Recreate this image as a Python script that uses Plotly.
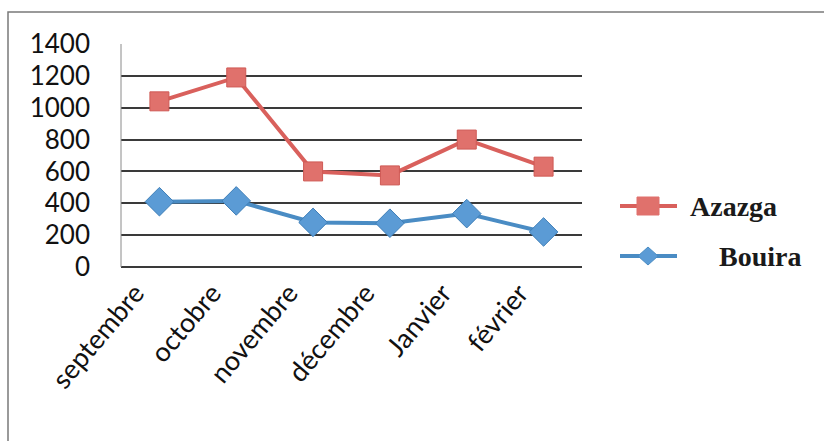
import plotly.graph_objects as go

# Monthly values for the two stations
months = ["septembre", "octobre", "novembre", "décembre", "Janvier", "février"]
azazga = [1040, 1190, 600, 575, 800, 630]
bouira = [410, 415, 280, 275, 335, 220]
y_ticks = [0, 200, 400, 600, 800, 1000, 1200, 1400]

W, H = 824, 441
ML, MR, MT, MB = 121, 242, 44, 174
PW, PH = W - ML - MR, H - MT - MB

RED_LINE = "#d9605c"
RED_FILL = "#e0716c"
BLUE_LINE = "#4a8cc4"
BLUE_FILL = "#5b9bd5"
GRID = "#3a3a3a"


def px_x(x):
    return (x - ML) / PW


def px_y(y):
    return 1 - (y - MT) / PH


fig = go.Figure()
fig.add_trace(go.Scatter(
    x=months, y=azazga, name="Azazga", mode="lines+markers",
    line=dict(color=RED_LINE, width=4),
    marker=dict(symbol="square", size=19, color=RED_FILL,
                line=dict(color="#cf5a55", width=1)),
))
fig.add_trace(go.Scatter(
    x=months, y=bouira, name="Bouira", mode="lines+markers",
    line=dict(color=BLUE_LINE, width=4),
    marker=dict(symbol="diamond", size=22, color=BLUE_FILL,
                line=dict(color="#3f7fb8", width=1)),
))

shapes = []
# outer frame of the chart
shapes.append(dict(type="rect", xref="paper", yref="paper",
                   x0=px_x(8), x1=px_x(830), y0=px_y(12), y1=px_y(450),
                   line=dict(color="#7a7a7a", width=1.5), layer="below"))
# left edge of the plotting area
shapes.append(dict(type="line", xref="paper", yref="paper",
                   x0=0, x1=0, y0=0, y1=1,
                   line=dict(color="#8a8a8a", width=1)))

# legend: line with a marker in the middle, then the name
legend_rows = [
    ("Azazga", 206, RED_LINE, RED_FILL, "square", 688),
    ("Bouira", 256, BLUE_LINE, BLUE_FILL, "diamond", 717),
]
annotations = []
for name, ly, lc, fc, sym, tx in legend_rows:
    shapes.append(dict(type="line", xref="paper", yref="paper",
                       x0=px_x(620), x1=px_x(677), y0=px_y(ly), y1=px_y(ly),
                       line=dict(color=lc, width=4)))
    cx = 648
    if sym == "square":
        shapes.append(dict(type="rect", xref="paper", yref="paper",
                           x0=px_x(cx - 11), x1=px_x(cx + 11),
                           y0=px_y(ly + 9), y1=px_y(ly - 9),
                           fillcolor=fc, line=dict(color=fc, width=1)))
    else:
        path = "M {} {} L {} {} L {} {} L {} {} Z".format(
            px_x(cx - 10), px_y(ly), px_x(cx), px_y(ly - 9),
            px_x(cx + 10), px_y(ly), px_x(cx), px_y(ly + 9))
        shapes.append(dict(type="path", xref="paper", yref="paper", path=path,
                           fillcolor=fc, line=dict(color=lc, width=1)))
    annotations.append(dict(
        text="<b>" + name + "</b>", xref="paper", yref="paper",
        x=px_x(tx), y=px_y(ly), xanchor="left", yanchor="middle",
        showarrow=False,
        font=dict(family="Liberation Serif", size=28, color="#1a1a1a"),
    ))

fig.update_layout(
    width=W, height=H,
    margin=dict(l=ML, r=MR, t=MT, b=MB),
    paper_bgcolor="white", plot_bgcolor="white",
    showlegend=False,
    shapes=shapes, annotations=annotations,
    xaxis=dict(
        type="category", categoryorder="array", categoryarray=months,
        range=[-0.5, len(months) - 0.5],
        showgrid=False, zeroline=False, showline=False,
        ticks="", tickangle=-50, ticklabelshift=-24, ticklabelstandoff=4,
        tickfont=dict(family="Lato", size=27, color="#111111"),
    ),
    yaxis=dict(
        range=[0, 1400], tickvals=y_ticks,
        showgrid=True, gridcolor=GRID, gridwidth=1.5,
        zeroline=True, zerolinecolor=GRID, zerolinewidth=1.5,
        showline=False, ticks="", ticklabelstandoff=30,
        tickfont=dict(family="Lato", size=26, color="#111111"),
    ),
)

fig.write_html("out.html")
